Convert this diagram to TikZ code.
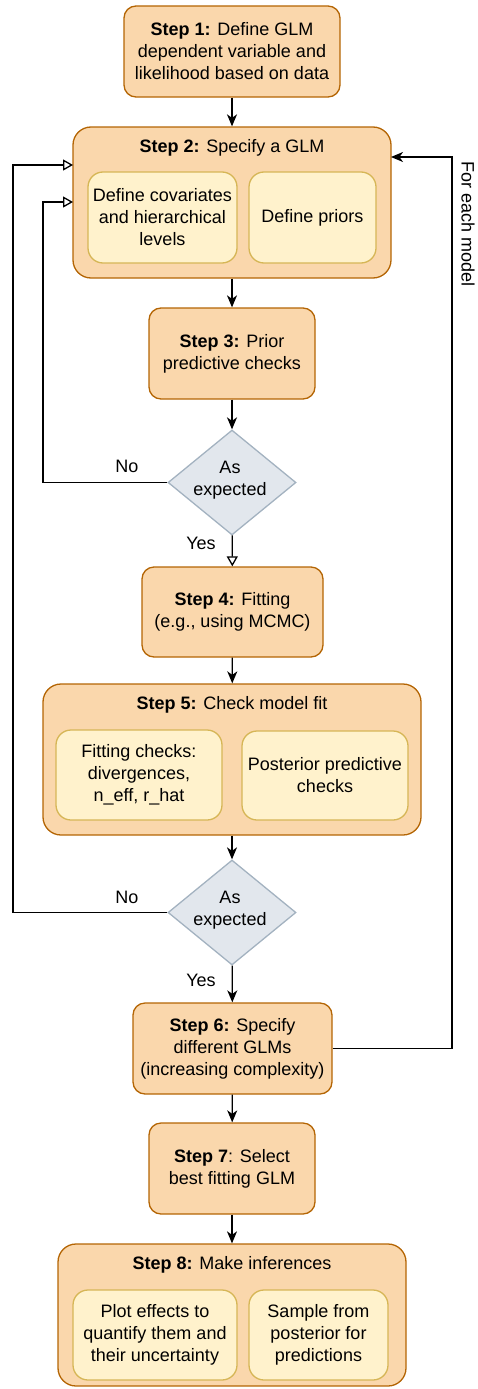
\documentclass[tikz,border=0pt]{standalone}
\usepackage{fontspec}
\setmainfont{Liberation Sans}
\usetikzlibrary{shapes.geometric,arrows.meta}
\definecolor{stepfill}{HTML}{FAD7AC}
\definecolor{stepdraw}{HTML}{B46504}
\definecolor{subfill}{HTML}{FFF2CC}
\definecolor{subdraw}{HTML}{D6B656}
\definecolor{decfill}{HTML}{E2E7ED}
\definecolor{decdraw}{HTML}{A3B2C0}
\tikzset{
  txt/.style={font=\fontsize{18}{22}\selectfont, align=center, inner sep=0pt},
  stepbox/.style={txt, draw=stepdraw, fill=stepfill, line width=1.3pt, rounded corners=12pt},
  bigbox/.style={draw=stepdraw, fill=stepfill, line width=1.3pt, rounded corners=18pt, inner sep=0pt},
  subbox/.style={txt, draw=subdraw, fill=subfill, line width=1.3pt, rounded corners=15pt},
  decbox/.style={diamond, draw=decdraw, fill=decfill, line width=1.3pt, inner sep=0pt, minimum width=128pt, minimum height=105pt},
  flow/.style={line width=1.3pt, -{Stealth[length=12pt,width=10pt,inset=3.5pt]}},
  openflow/.style={line width=1.3pt, -{Triangle[open,length=10pt,width=11pt,fill=white]}},
}
\begin{document}
\begin{tikzpicture}[x=1pt,y=-1pt]
\useasboundingbox (0,0) rectangle (478,1389);
% Step 1
\node[stepbox, minimum width=216pt, minimum height=91pt] (s1) at (232,51.5)
  {\textbf{Step 1:} Define GLM\\dependent variable and\\likelihood based on data};
% Step 2
\node[bigbox, minimum width=318pt, minimum height=151pt] (s2) at (232,202.5) {};
\node[txt] (s2t) at (232,148) {\textbf{Step 2:} Specify a GLM};
\node[subbox, minimum width=149pt, minimum height=91pt] (s2a) at (162.5,217.5)
  {Define covariates\\and hierarchical\\levels};
\node[subbox, minimum width=127pt, minimum height=91pt] (s2b) at (312.5,217.5)
  {Define priors};
% Step 3
\node[stepbox, minimum width=166pt, minimum height=91pt] (s3) at (232,353.5)
  {\textbf{Step 3:} Prior\\predictive checks};
% Decision 1
\node[decbox] (d1) at (232,482.5) {};
\node[txt] (d1t) at (230,480) {As\\expected};
% Step 4
\node[stepbox, minimum width=181pt, minimum height=90pt] (s4) at (232.5,612)
  {\textbf{Step 4:} Fitting\\(e.g., using MCMC)};
% Step 5
\node[bigbox, minimum width=378pt, minimum height=151pt] (s5) at (232,759.5) {};
\node[txt] (s5t) at (232,705) {\textbf{Step 5:} Check model fit};
\node[subbox, minimum width=166pt, minimum height=90pt] (s5a) at (139,775)
  {Fitting checks:\\divergences,\\n\_eff, r\_hat};
\node[subbox, minimum width=166pt, minimum height=89pt] (s5b) at (325,775.5)
  {Posterior predictive\\checks};
% Decision 2
\node[decbox] (d2) at (232,912.5) {};
\node[txt] (d2t) at (230,910) {As\\expected};
% Step 6
\node[stepbox, minimum width=199pt, minimum height=91pt] (s6) at (232.5,1048.5)
  {\textbf{Step 6:} Specify\\different GLMs\\(increasing complexity)};
% Step 7
\node[stepbox, minimum width=166pt, minimum height=91pt] (s7) at (232,1168.5)
  {\textbf{Step 7}: Select\\best fitting GLM};
% Step 8
\node[bigbox, minimum width=348pt, minimum height=142pt] (s8) at (232,1315) {};
\node[txt] (s8t) at (232,1265) {\textbf{Step 8:} Make inferences};
\node[subbox, minimum width=164pt, minimum height=90pt] (s8a) at (155,1335)
  {Plot effects to\\quantify them and\\their uncertainty};
\node[subbox, minimum width=139pt, minimum height=90pt] (s8b) at (318.5,1335)
  {Sample from\\posterior for\\predictions};
% coordinates for loops
\coordinate (in1) at (73,165);
\coordinate (in2) at (73,202);
\coordinate (in3) at (391,157);
% main flow
\draw[flow] (s1) -- (s2);
\draw[flow] (s2) -- (s3);
\draw[flow] (s3) -- (d1);
\draw[openflow] (d1) -- (s4);
\draw[flow] (s4) -- (s5);
\draw[flow] (s5) -- (d2);
\draw[flow] (d2) -- (s6);
\draw[flow] (s6) -- (s7);
\draw[flow] (s7) -- (s8);
% loops
\draw[openflow] (d1.west) -- (43,482.5) |- (in2);
\draw[openflow] (d2.west) -- (13,912.5) |- (in1);
\draw[flow] (s6.east) -- (452,1048.5) |- (in3);
% labels
\node[txt] (no1) at (127,466) {No};
\node[txt] (no2) at (127,897) {No};
\node[txt] (yes1) at (201,543) {Yes};
\node[txt] (yes2) at (201,980) {Yes};
\node[txt, rotate=-90] (each) at (468,224) {For each model};
\end{tikzpicture}
\end{document}
